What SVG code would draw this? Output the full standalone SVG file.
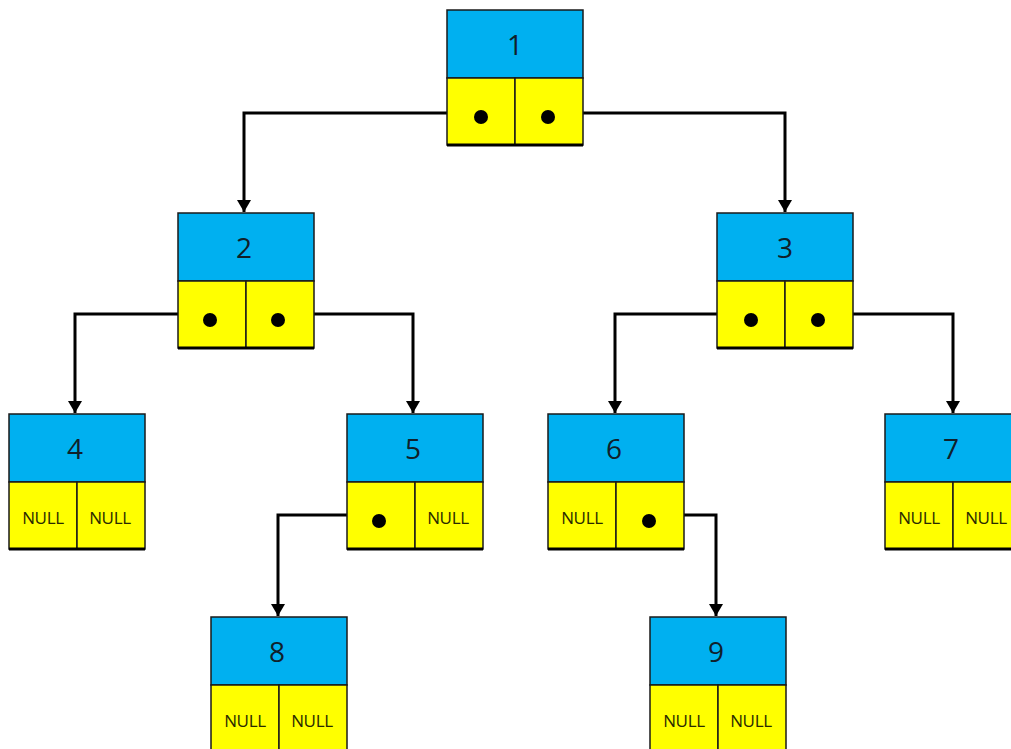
<svg xmlns="http://www.w3.org/2000/svg" width="1011" height="749" viewBox="0 0 1011 749">
  <defs>
    <style>
      .val { fill: #00B0F0; stroke: #1a1a1a; stroke-width: 1.5; }
      .ptr { fill: #FFFF00; stroke: #1a1a1a; stroke-width: 1.5; }
      .base { stroke: #000; stroke-width: 3; }
      .num { font-family: "Open Sans", "Liberation Sans", sans-serif; font-size: 28px; fill: #10202a; text-anchor: middle; }
      .null { font-family: "Open Sans", "Liberation Sans", sans-serif; font-size: 17px; fill: #2a2a00; text-anchor: middle; letter-spacing: -0.3px; }
      .dot { fill: #000; }
      .link { fill: none; stroke: #000; stroke-width: 3; }
    </style>
    <marker id="arrow" viewBox="0 0 12 14" refX="12" refY="7" markerWidth="12" markerHeight="14" markerUnits="userSpaceOnUse" orient="auto">
      <path d="M0,0 L12,7 L0,14 Z" fill="#000"/>
    </marker>
    <!-- node template: 136 x 136, value cell on top, two pointer cells below -->
    <g id="box">
      <rect class="val" x="0" y="0" width="136" height="68"/>
      <rect class="ptr" x="0" y="68" width="68" height="67"/>
      <rect class="ptr" x="68" y="68" width="68" height="67"/>
      <line class="base" x1="0" y1="135" x2="136" y2="135"/>
    </g>
  </defs>

  <rect width="1011" height="749" fill="#fff"/>

  <!-- connectors -->
  <g id="connectors">
    <path class="link" d="M447,113 H244 V212" marker-end="url(#arrow)"/>
    <path class="link" d="M583,113 H785 V212" marker-end="url(#arrow)"/>
    <path class="link" d="M178,314 H75 V413" marker-end="url(#arrow)"/>
    <path class="link" d="M313,314 H413 V413" marker-end="url(#arrow)"/>
    <path class="link" d="M717,314 H615 V413" marker-end="url(#arrow)"/>
    <path class="link" d="M853,314 H953 V413" marker-end="url(#arrow)"/>
    <path class="link" d="M347,515 H278 V616" marker-end="url(#arrow)"/>
    <path class="link" d="M684,515 H716 V616" marker-end="url(#arrow)"/>
  </g>

  <g id="node1" transform="translate(447,10)">
    <use href="#box"/>
    <text class="num" x="68" y="45">1</text>
    <circle class="dot" cx="34" cy="107" r="7"/>
    <circle class="dot" cx="101" cy="107" r="7"/>
  </g>

  <g id="node2" transform="translate(178,213)">
    <use href="#box"/>
    <text class="num" x="66" y="45">2</text>
    <circle class="dot" cx="32" cy="107" r="7"/>
    <circle class="dot" cx="100" cy="107" r="7"/>
  </g>

  <g id="node3" transform="translate(717,213)">
    <use href="#box"/>
    <text class="num" x="68" y="45">3</text>
    <circle class="dot" cx="34" cy="107" r="7"/>
    <circle class="dot" cx="101" cy="107" r="7"/>
  </g>

  <g id="node4" transform="translate(9,414)">
    <use href="#box"/>
    <text class="num" x="66" y="45">4</text>
    <text class="null" x="34" y="110">NULL</text>
    <text class="null" x="101" y="110">NULL</text>
  </g>

  <g id="node5" transform="translate(347,414)">
    <use href="#box"/>
    <text class="num" x="66" y="45">5</text>
    <circle class="dot" cx="32" cy="107" r="7"/>
    <text class="null" x="101" y="110">NULL</text>
  </g>

  <g id="node6" transform="translate(548,414)">
    <use href="#box"/>
    <text class="num" x="66" y="45">6</text>
    <text class="null" x="34" y="110">NULL</text>
    <circle class="dot" cx="101" cy="107" r="7"/>
  </g>

  <g id="node7" transform="translate(885,414)">
    <use href="#box"/>
    <text class="num" x="66" y="45">7</text>
    <text class="null" x="34" y="110">NULL</text>
    <text class="null" x="101" y="110">NULL</text>
  </g>

  <g id="node8" transform="translate(211,617)">
    <use href="#box"/>
    <text class="num" x="66" y="45">8</text>
    <text class="null" x="34" y="110">NULL</text>
    <text class="null" x="101" y="110">NULL</text>
  </g>

  <g id="node9" transform="translate(650,617)">
    <use href="#box"/>
    <text class="num" x="66" y="45">9</text>
    <text class="null" x="34" y="110">NULL</text>
    <text class="null" x="101" y="110">NULL</text>
  </g>
</svg>
